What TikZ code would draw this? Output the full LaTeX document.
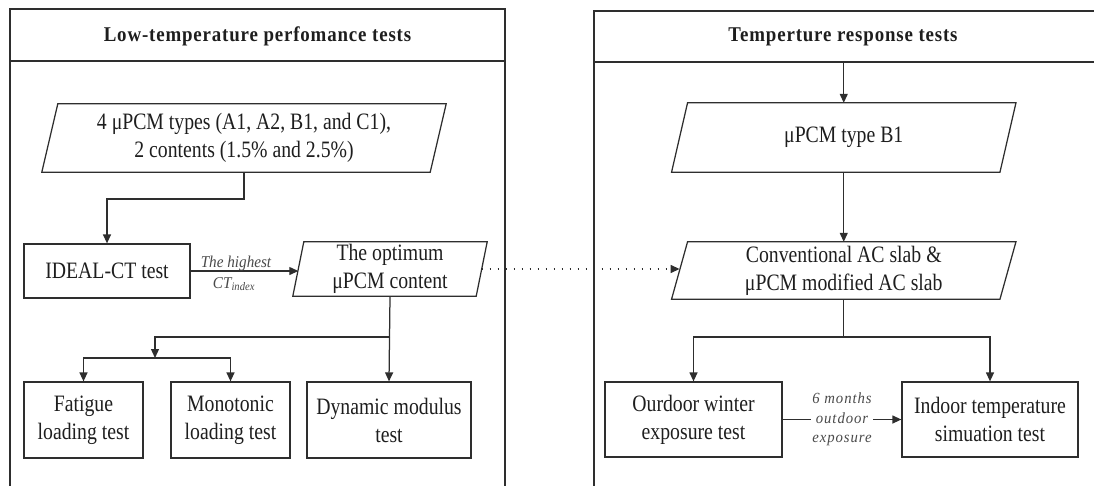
\documentclass[tikz,border=0pt]{standalone}
\usepackage{fontspec}
\setmainfont{Liberation Serif}[FakeStretch=0.84]
\newfontfamily\titlefont{Liberation Serif}[FakeStretch=0.9,LetterSpace=4]
\newfontfamily\lblfont{Liberation Serif}[FakeStretch=0.92]
\newfontfamily\lblwide{Liberation Serif}[FakeStretch=0.95,LetterSpace=6]
\usetikzlibrary{arrows.meta}
\definecolor{linec}{HTML}{2E2E2E}
\definecolor{textc}{HTML}{1E1E1E}
\definecolor{lblc}{HTML}{4A4A4A}
\newcommand\mainsz{\fontsize{23.5}{28}\selectfont}
% parallelogram drawn around a rectangular node: #1 node name, #2 half slant (pt)
\newcommand\slantframe[2]{%
  \draw[line] ([xshift=#2pt]#1.north west) -- ([xshift=#2pt]#1.north east)
    -- ([xshift=-#2pt]#1.south east) -- ([xshift=-#2pt]#1.south west) -- cycle;}
\begin{document}
\begin{tikzpicture}[x=1pt,y=-1pt,
  line/.style={draw=linec, line width=1.25pt},
  arr/.style={line, -{Triangle[length=9pt,width=8pt]}},
  box/.style={draw=linec, line width=1.25pt, align=center, text=textc, font=\mainsz, inner sep=1pt},
  iobox/.style={align=center, text=textc, font=\mainsz, inner sep=1pt},
  title/.style={text=textc, font=\titlefont\fontsize{21}{24}\selectfont\bfseries},
  lbl/.style={text=lblc, font=\lblfont\itshape\fontsize{16.5}{18}\selectfont, inner sep=1pt},
  lblw/.style={text=lblc, font=\lblwide\itshape\fontsize{15.5}{19.5}\selectfont, align=center, inner sep=1pt}
]
\useasboundingbox (0,0) rectangle (1094,485);
\clip (0,0) rectangle (1094,485);

% panel frames
\draw[line] (10,500) -- (10,9) -- (505,9) -- (505,500);
\draw[line] (10,61) -- (505,61);
\draw[line] (594,500) -- (594,11) -- (1110,11);
\draw[line] (594,62) -- (1110,62);
\node[title] (t1) at (257.5,36) {Low-temperature perfomance tests};
\node[title] (t2) at (843,37) {Temperture response tests};

% left panel
\node[iobox, minimum width=388pt, minimum height=68pt] (p1) at (244,138)
  {4 μPCM types (A1, A2, B1, and C1),\\2 contents (1.5\% and 2.5\%)};
\slantframe{p1}{8}
\node[box, minimum width=166pt, minimum height=54pt] (ideal) at (107,271) {IDEAL-CT test};
\node[iobox, minimum width=183pt, minimum height=54pt] (opt) at (390,269)
  {The optimum\\μPCM content};
\slantframe{opt}{5.5}
\node[box, minimum width=119pt, minimum height=76pt] (fat) at (83.5,420) {Fatigue\\loading test};
\node[box, minimum width=119pt, minimum height=76pt] (mono) at (230.5,420) {Monotonic\\loading test};
\node[box, minimum width=164pt, minimum height=76pt] (dyn) at (389,420) {Dynamic modulus\\test};

\coordinate (k1) at (244,199);
\draw[arr] (p1.south) -- (k1) -| (ideal.north);
\draw[arr] (ideal.east) -- (ideal.east -| opt.west);
\node[lbl, anchor=south] (hi) at (236,272) {The highest};
\node[lbl, anchor=north] (ci) at (234,276) {CT\textsubscript{index}};
\coordinate (j1) at (390,337);
\coordinate (j2) at (155,358);
\draw[arr] (opt.south) -- (dyn.north);
\draw[arr] (j1) -| (j2);
\draw[arr] (j2) -| (fat.north);
\draw[arr] (j2) -| (mono.north);

% right panel
\node[iobox, minimum width=328pt, minimum height=69pt] (b1) at (843.75,137.5) {μPCM type B1};
\slantframe{b1}{8}
\node[iobox, minimum width=328pt, minimum height=57pt] (conv) at (843.75,270.5)
  {Conventional AC slab \&\\μPCM modified AC slab};
\slantframe{conv}{8}
\node[box, minimum width=177pt, minimum height=75pt] (out) at (693.5,419.5) {Ourdoor winter\\exposure test};
\node[box, minimum width=176pt, minimum height=75pt] (ind) at (990,419.5) {Indoor temperature\\simuation test};

\coordinate (rtop) at (843.75,62);
\draw[arr] (rtop) -- (b1.north);
\draw[arr] (b1.south) -- (conv.north);
\coordinate (j3) at (843.75,337);
\draw[line] (conv.south) -- (j3);
\draw[arr] (j3) -| (out.north);
\draw[arr] (j3) -| (ind.north);
\draw[arr] (out.east) -- (ind.west)
  node[midway, lblw, fill=white] (six) {6 months\\outdoor\\exposure};

% link between the two panels
\draw[arr, line width=1.4pt, dash pattern=on 1.5pt off 6.5pt] (opt.east) -- (opt.east -| conv.west);
\end{tikzpicture}
\end{document}
